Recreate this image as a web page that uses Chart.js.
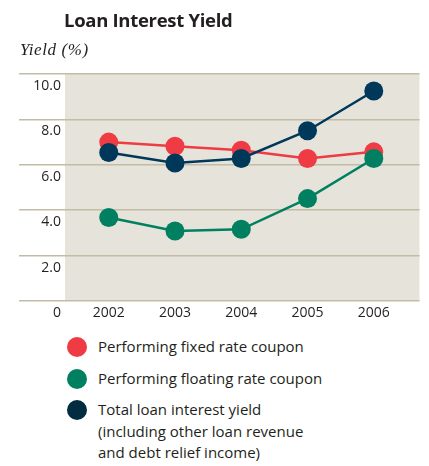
<!DOCTYPE html>
<html>
<head>
<meta charset="utf-8">
<script src="https://cdn.jsdelivr.net/npm/chart.js@4/dist/chart.umd.min.js"></script>
<style>
  html, body { margin: 0; padding: 0; background: #fff; }
  #wrap { position: relative; width: 429px; height: 466px; overflow: hidden; }
  #title {
    position: absolute; left: 64px; top: 7px;
    font: bold 18.5px "Open Sans", sans-serif; color: #231f20; letter-spacing: -0.3px;
  }
  #unit {
    position: absolute; left: 20px; top: 40px;
    font: italic 17px "Liberation Serif", serif; color: #231f20; letter-spacing: 0.6px;
  }
  #chartBox { position: absolute; left: 0; top: 0; width: 429px; height: 330px; }
  #legend { position: absolute; left: 67px; top: 336px; }
  .item { position: relative; padding-left: 31px; margin-bottom: 10px;
    font: 15px "Open Sans", sans-serif; color: #231f20; line-height: 21.5px; }
  .dot { position: absolute; left: 0; top: 1px; width: 20px; height: 20px; border-radius: 50%; }
</style>
</head>
<body>
<div id="wrap">
  <div id="chartBox"><canvas id="chart"></canvas></div>
  <div id="title">Loan Interest Yield</div>
  <div id="unit">Yield (%)</div>
  <div id="legend"></div>
</div>
<script>
const years = [2002, 2003, 2004, 2005, 2006];
const fixedRate = [7.0, 6.82, 6.64, 6.28, 6.57];
const floatingRate = [3.68, 3.08, 3.16, 4.51, 6.28];
const totalYield = [6.54, 6.08, 6.28, 7.5, 9.25];
const yTicks = [0, 2, 4, 6, 8, 10];

const seriesNames = [
  ["Performing fixed rate coupon"],
  ["Performing floating rate coupon"],
  ["Total loan interest yield", "(including other loan revenue", "and debt relief income)"],
];
const seriesColors = ["#ee3b44", "#008061", "#00385a"];
const legendColors = ["#ee3b44", "#008061", "#022c40"];

const toPoints = (vals) => vals.map((v, i) => ({ x: years[i], y: v }));

const makeSet = (vals, idx, order) => ({
  label: seriesNames[idx].join(" "),
  data: toPoints(vals),
  borderColor: seriesColors[idx],
  backgroundColor: seriesColors[idx],
  pointBackgroundColor: seriesColors[idx],
  pointBorderWidth: 0,
  pointRadius: 9.5,
  pointHoverRadius: 9.5,
  borderWidth: 2.5,
  tension: 0,
  order: order,
});

// beige plot background behind grid and lines
const plotShade = {
  id: "plotShade",
  beforeDraw(chart) {
    const { ctx, chartArea } = chart;
    ctx.save();
    ctx.fillStyle = "#e6e3da";
    ctx.fillRect(chartArea.left, chartArea.top, chartArea.right - chartArea.left, chartArea.bottom - chartArea.top);
    ctx.restore();
  },
};

new Chart(document.getElementById("chart"), {
  type: "line",
  data: {
    datasets: [
      makeSet(fixedRate, 0, 3),
      makeSet(floatingRate, 1, 2),
      makeSet(totalYield, 2, 1),
    ],
  },
  options: {
    responsive: true,
    maintainAspectRatio: false,
    animation: false,
    layout: { padding: { left: 19, right: 0, top: 74, bottom: 7 } },
    plugins: {
      legend: { display: false },
      tooltip: { enabled: false },
    },
    scales: {
      x: {
        type: "linear",
        min: 2001.34,
        max: 2006.69,
        grid: { display: false, drawTicks: false },
        border: { display: false },
        afterBuildTicks: (axis) => {
          axis.ticks = years.map((y) => ({ value: y }));
        },
        afterFit: (axis) => {
          axis.height = 22;
        },
        ticks: {
          padding: 4,
          color: "#231f20",
          font: { family: "Open Sans", size: 14 },
          callback: (v) => String(v),
        },
      },
      y: {
        min: 0,
        max: 10,
        afterBuildTicks: (axis) => {
          axis.ticks = yTicks.map((v) => ({ value: v }));
        },
        afterFit: (axis) => {
          axis.width = 46;
          axis.paddingTop = 0;
          axis.paddingBottom = 0;
        },
        grid: {
          color: "#c2bba6",
          lineWidth: 1.6,
          tickLength: 46,
          drawTicks: true,
        },
        border: { display: false },
        ticks: {
          padding: -42,
          labelOffset: 12,
          color: "#231f20",
          font: { family: "Open Sans", size: 14 },
          callback: (v) => (v === 0 ? "0" : v.toFixed(1)),
        },
      },
    },
  },
  plugins: [plotShade],
});

// legend built from the series names and colours
const legendEl = document.getElementById("legend");
seriesNames.forEach((lines, i) => {
  const item = document.createElement("div");
  item.className = "item";
  const dot = document.createElement("span");
  dot.className = "dot";
  dot.style.background = legendColors[i];
  item.appendChild(dot);
  lines.forEach((line, j) => {
    if (j > 0) item.appendChild(document.createElement("br"));
    item.appendChild(document.createTextNode(line));
  });
  legendEl.appendChild(item);
});
</script>
</body>
</html>
